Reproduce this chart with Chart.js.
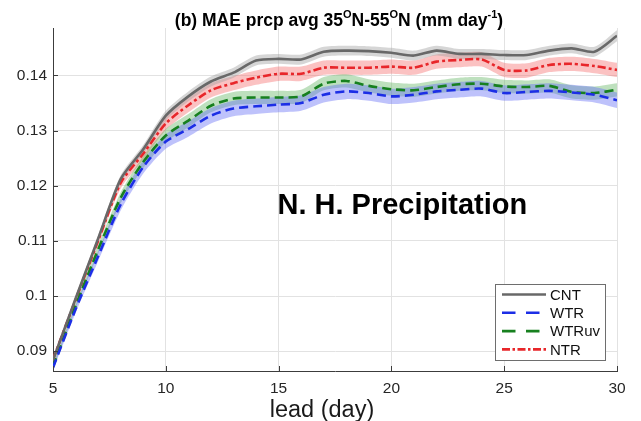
<!DOCTYPE html>
<html>
<head>
<meta charset="utf-8">
<script src="https://cdn.jsdelivr.net/npm/chart.js@4.4.1/dist/chart.umd.min.js"></script>
<style>
  html, body { margin: 0; padding: 0; background: #fff; }
</style>
</head>
<body>
<canvas id="maeChart" width="641" height="421"></canvas>
<script>
// lead days (x axis)
const lead = [5, 6, 7, 8, 9, 10, 11, 12, 13, 14, 15, 16, 17, 18, 19, 20, 21, 22, 23, 24, 25, 26, 27, 28, 29, 30];

// MAE precipitation, mm/day
const cnt   = [0.0884, 0.0995, 0.1104, 0.1212, 0.1266, 0.1327, 0.1362, 0.1389, 0.1405, 0.1427, 0.1430, 0.1429, 0.1443,
               0.1445, 0.1444, 0.1441, 0.1436, 0.1445, 0.1439, 0.1439, 0.1437, 0.1437, 0.1445, 0.1449, 0.1443, 0.1472];
const wtr   = [0.0870, 0.0976, 0.1072, 0.1166, 0.1234, 0.1280, 0.1303, 0.1327, 0.1340, 0.1344, 0.1347, 0.1350, 0.1365,
               0.1371, 0.1368, 0.1362, 0.1365, 0.1371, 0.1374, 0.1376, 0.1368, 0.1370, 0.1372, 0.1369, 0.1365, 0.1355];
const wtruv = [0.0872, 0.0982, 0.1084, 0.1178, 0.1243, 0.1291, 0.1318, 0.1345, 0.1358, 0.1360, 0.1360, 0.1362, 0.1385,
               0.1390, 0.1381, 0.1375, 0.1373, 0.1379, 0.1384, 0.1385, 0.1380, 0.1379, 0.1381, 0.1370, 0.1368, 0.1374];
const ntr   = [0.0885, 0.0993, 0.1100, 0.1205, 0.1258, 0.1313, 0.1346, 0.1373, 0.1386, 0.1396, 0.1403, 0.1403, 0.1414,
               0.1414, 0.1414, 0.1416, 0.1414, 0.1425, 0.1428, 0.1429, 0.1410, 0.1409, 0.1419, 0.1421, 0.1417, 0.1410];

// half width of the shaded spread around each line
const spreadCnt   = [0.0004, 0.0005, 0.0006, 0.0007, 0.0008, 0.0009, 0.0009, 0.0009, 0.0009, 0.0009, 0.0009, 0.0009, 0.0009,
                     0.0009, 0.0009, 0.0009, 0.0009, 0.0009, 0.0009, 0.0009, 0.0009, 0.0009, 0.0009, 0.0009, 0.0009, 0.0010];
const spreadWtr   = [0.0005, 0.0007, 0.0009, 0.0011, 0.0012, 0.0013, 0.0014, 0.0014, 0.0014, 0.0014, 0.0014, 0.0014, 0.0014,
                     0.0014, 0.0014, 0.0014, 0.0014, 0.0014, 0.0014, 0.0014, 0.0014, 0.0014, 0.0014, 0.0014, 0.0014, 0.0014];
const spreadWtruv = [0.0005, 0.0006, 0.0008, 0.0010, 0.0011, 0.0012, 0.0012, 0.0012, 0.0012, 0.0012, 0.0012, 0.0012, 0.0012,
                     0.0012, 0.0012, 0.0012, 0.0012, 0.0012, 0.0012, 0.0012, 0.0012, 0.0012, 0.0012, 0.0012, 0.0012, 0.0012];
const spreadNtr   = [0.0005, 0.0006, 0.0008, 0.0010, 0.0011, 0.0012, 0.0013, 0.0013, 0.0013, 0.0013, 0.0013, 0.0013, 0.0013,
                     0.0013, 0.0013, 0.0013, 0.0013, 0.0013, 0.0013, 0.0013, 0.0013, 0.0013, 0.0013, 0.0013, 0.0013, 0.0013];

const yTicks = [0.09, 0.10, 0.11, 0.12, 0.13, 0.14];
const xTicks = [5, 10, 15, 20, 25, 30];

const FONT = "'Liberation Sans', Arial, Helvetica, sans-serif";

const series = [
    { label: 'CNT',   data: cnt,   spread: spreadCnt,   color: '#686868', band: 'rgba(165,165,165,0.45)', dash: [],           legendDash: [] },
    { label: 'WTR',   data: wtr,   spread: spreadWtr,   color: '#1c2ee6', band: 'rgba(100,110,245,0.42)', dash: [9, 5],       legendDash: [13.5, 10.5] },
    { label: 'WTRuv', data: wtruv, spread: spreadWtruv, color: '#17801f', band: 'rgba(100,180,100,0.42)', dash: [9, 5],       legendDash: [13.5, 10.5] },
    { label: 'NTR',   data: ntr,   spread: spreadNtr,   color: '#e8262a', band: 'rgba(245,110,110,0.42)', dash: [8, 3, 3, 3], legendDash: [8, 2.5, 2.5, 2.5] }
];

function toPoints(vals) {
    return vals.map((v, i) => ({ x: lead[i], y: v }));
}

// shaded bands: lower edge + upper edge filled to the lower one
const datasets = [];
series.forEach(s => {
    const lowIdx = datasets.length;
    datasets.push({
        label: s.label + ' low',
        data: toPoints(s.data.map((v, i) => v - s.spread[i])),
        borderWidth: 0, pointRadius: 0, fill: false, tension: 0.25, order: 10
    });
    datasets.push({
        label: s.label + ' high',
        data: toPoints(s.data.map((v, i) => v + s.spread[i])),
        borderWidth: 0, pointRadius: 0, backgroundColor: s.band,
        fill: { target: lowIdx }, tension: 0.25, order: 10
    });
});
// the lines themselves, on top
series.forEach(s => {
    datasets.push({
        label: s.label,
        data: toPoints(s.data),
        borderColor: s.color,
        borderWidth: 2.6,
        borderDash: s.dash,
        pointRadius: 0,
        fill: false,
        tension: 0.25,
        order: 0
    });
});

// title with superscripts + x axis title
const titlePlugin = {
    id: 'maeTitle',
    afterDraw(chart) {
        const ctx = chart.ctx;
        const parts = [
            ['(b) MAE prcp avg 35', false], ['O', true], ['N-55', false], ['O', true],
            ['N (mm day', false], ['-1', true], [')', false]
        ];
        const big = 'bold 17.5px ' + FONT, small = 'bold 11px ' + FONT;
        ctx.save();
        let w = 0;
        parts.forEach(p => { ctx.font = p[1] ? small : big; w += ctx.measureText(p[0]).width; });
        let x = 339 - w / 2;
        const base = 26;
        ctx.fillStyle = '#000';
        ctx.textBaseline = 'alphabetic';
        parts.forEach(p => {
            ctx.font = p[1] ? small : big;
            ctx.fillText(p[0], x, p[1] ? base - 8 : base);
            x += ctx.measureText(p[0]).width;
        });
        ctx.font = '23.5px ' + FONT;
        ctx.textAlign = 'center';
        ctx.fillStyle = '#1a1a1a';
        ctx.fillText('lead (day)', 322, 417);
        ctx.restore();
    }
};

// inward tick marks, like the original axes
const tickPlugin = {
    id: 'inTicks',
    afterDraw(chart) {
        const ctx = chart.ctx;
        const area = chart.chartArea;
        const xs = chart.scales.x, ys = chart.scales.y;
        ctx.save();
        ctx.strokeStyle = '#3c3c3c';
        ctx.lineWidth = 1;
        ctx.beginPath();
        xTicks.forEach(v => {
            const px = Math.round(xs.getPixelForValue(v)) + 0.5;
            ctx.moveTo(px, area.bottom);
            ctx.lineTo(px, area.bottom - 5);
        });
        yTicks.forEach(v => {
            const py = Math.round(ys.getPixelForValue(v)) + 0.5;
            ctx.moveTo(area.left, py);
            ctx.lineTo(area.left + 5, py);
        });
        ctx.stroke();
        ctx.restore();
    }
};

// "N. H. Precipitation" label inside the axes
const notePlugin = {
    id: 'note',
    afterDatasetsDraw(chart) {
        const ctx = chart.ctx;
        const xs = chart.scales.x, ys = chart.scales.y;
        ctx.save();
        ctx.font = 'bold 29px ' + FONT;
        ctx.fillStyle = '#000';
        ctx.textAlign = 'left';
        ctx.textBaseline = 'middle';
        ctx.fillText('N. H. Precipitation', xs.getPixelForValue(14.95), ys.getPixelForValue(0.1163));
        ctx.restore();
    }
};

// legend box in the lower right corner
const legendPlugin = {
    id: 'boxLegend',
    afterDraw(chart) {
        const ctx = chart.ctx;
        const area = chart.chartArea;
        const boxW = 110, boxH = 76;
        const bx = area.right - 12 - boxW, by = area.bottom - 11 - boxH;
        ctx.save();
        ctx.fillStyle = '#fff';
        ctx.fillRect(bx, by, boxW, boxH);
        ctx.strokeStyle = '#6e6e6e';
        ctx.lineWidth = 1;
        ctx.strokeRect(bx + 0.5, by + 0.5, boxW, boxH);
        ctx.font = '15px ' + FONT;
        ctx.textBaseline = 'middle';
        series.forEach((s, i) => {
            const y = by + 10.5 + i * 18.3;
            ctx.beginPath();
            ctx.setLineDash(s.legendDash);
            ctx.strokeStyle = s.color;
            ctx.lineWidth = 2.6;
            ctx.moveTo(bx + 7, y);
            ctx.lineTo(bx + 51, y);
            ctx.stroke();
            ctx.setLineDash([]);
            ctx.fillStyle = '#111';
            ctx.fillText(s.label, bx + 55, y + 1);
        });
        ctx.restore();
    }
};

const ctx = document.getElementById('maeChart').getContext('2d');
const maeChart = new Chart(ctx, {
    type: 'line',
    data: { datasets: datasets },
    options: {
        responsive: false,
        animation: false,
        devicePixelRatio: 1,
        layout: { padding: { top: 28, right: 24, left: 0, bottom: 0 } },
        plugins: {
            legend: { display: false },
            title: { display: false },
            tooltip: { enabled: false }
        },
        scales: {
            x: {
                type: 'linear',
                min: 5,
                max: 30,
                afterFit(scale) { scale.height = 50; },
                afterBuildTicks(scale) { scale.ticks = xTicks.map(v => ({ value: v })); },
                ticks: {
                    color: '#262626',
                    font: { family: FONT, size: 15.5 },
                    padding: 8,
                    maxRotation: 0,
                    callback: v => String(v)
                },
                grid: { color: '#e2e2e2', lineWidth: 1, drawTicks: false },
                border: { color: '#3c3c3c', width: 1 }
            },
            y: {
                min: 0.0864,
                max: 0.1486,
                afterFit(scale) { scale.width = 53; },
                afterBuildTicks(scale) { scale.ticks = yTicks.map(v => ({ value: v })); },
                ticks: {
                    color: '#262626',
                    font: { family: FONT, size: 15.5 },
                    padding: 6,
                    callback: v => String(+v.toFixed(2))
                },
                grid: { color: '#e2e2e2', lineWidth: 1, drawTicks: false },
                border: { color: '#3c3c3c', width: 1 }
            }
        }
    },
    plugins: [notePlugin, tickPlugin, titlePlugin, legendPlugin]
});
</script>
</body>
</html>
